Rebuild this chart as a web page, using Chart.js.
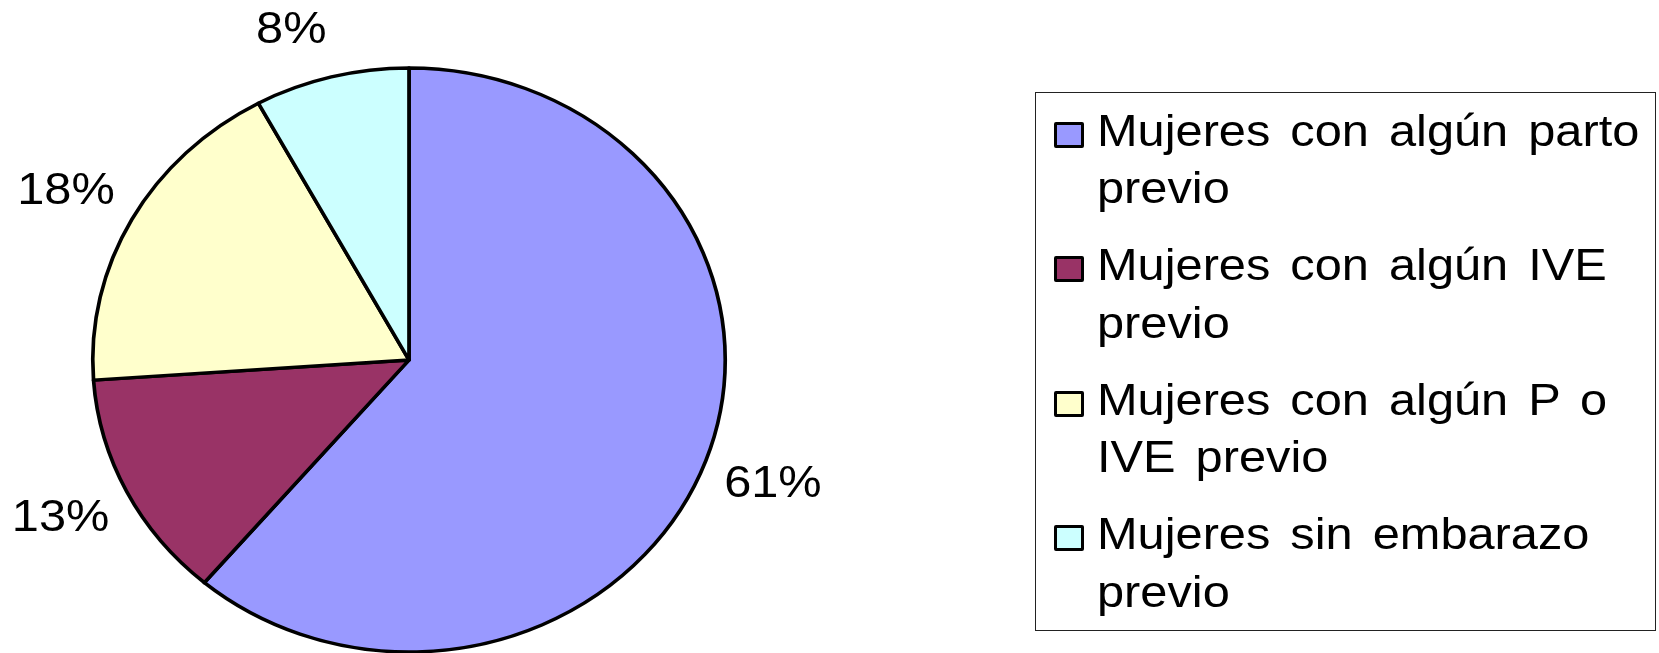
<!DOCTYPE html>
<html>
<head>
<meta charset="utf-8">
<script src="https://cdn.jsdelivr.net/npm/chart.js@4/dist/chart.umd.min.js"></script>
<style>
    html, body { margin: 0; padding: 0; background: #ffffff; }
    #wrap { position: absolute; left: 0; top: 0; width: 1659px; height: 653px; overflow: hidden; }
    #pieArea { position: absolute; left: 0; top: 0; width: 1659px; height: 653px; }
    #legendBox {
        position: absolute; left: 1035px; top: 92px; width: 621px; height: 539px;
        border: 1px solid #222; box-sizing: border-box;
    }
    .swatch {
        position: absolute; width: 30px; height: 26px; box-sizing: border-box;
        border: 3px solid #000; border-radius: 2px;
    }
    .legendText {
        position: absolute; width: 515px; color: #000;
        font-family: "Liberation Sans", Arial, sans-serif; font-size: 45px;
        line-height: 57.5px; word-spacing: 6px;
        transform: scaleX(1.083); transform-origin: 0 0;
    }
</style>
</head>
<body>
<div id="wrap">
    <div id="pieArea"><canvas id="pieChart"></canvas></div>
    <div id="legendBox"></div>
</div>
<script>
// data (share of women, %)
const categories = [
    'Mujeres con algún parto previo',
    'Mujeres con algún IVE previo',
    'Mujeres con algún P o IVE previo',
    'Mujeres sin embarazo previo'
];
const shares = [61.2, 12.7, 18.2, 7.9];
const sliceColors = ['#9999FF', '#993366', '#FFFFCC', '#CCFFFF'];

const STRETCH_X = 1.083; // the original picture is a bit wider than tall
const LABEL_FONT = '45px "Liberation Sans", Arial, sans-serif';

// pie is drawn as a circle and stretched sideways around its centre
const stretchPlugin = {
    id: 'stretchPie',
    beforeDatasetsDraw(chart) {
        const arc = chart.getDatasetMeta(0).data[0];
        const ctx = chart.ctx;
        ctx.save();
        ctx.translate(arc.x, arc.y);
        ctx.scale(STRETCH_X, 1);
        ctx.translate(-arc.x, -arc.y);
    },
    afterDatasetsDraw(chart) {
        const ctx = chart.ctx;
        const meta = chart.getDatasetMeta(0);
        const total = shares.reduce((a, b) => a + b, 0);
        ctx.font = LABEL_FONT;
        ctx.fillStyle = '#000';
        ctx.textAlign = 'center';
        ctx.textBaseline = 'middle';
        meta.data.forEach((arc, i) => {
            const mid = (arc.startAngle + arc.endAngle) / 2;
            const dx = Math.cos(mid), dy = Math.sin(mid);
            const txt = Math.round(shares[i] / total * 100) + '%';
            const w = ctx.measureText(txt).width;
            const ex = arc.x + dx * (arc.outerRadius + 18);
            const ey = arc.y + dy * (arc.outerRadius + 18);
            // labels near the top/bottom sit a bit further out
            const halfH = 18 * (1 + 0.7 * Math.pow(Math.abs(dy), 4));
            const x = ex + Math.sign(dx) * w / 2;
            const y = ey + Math.sign(dy) * halfH;
            ctx.fillText(txt, x, y);
        });
        ctx.restore();
    }
};

const ctx = document.getElementById('pieChart').getContext('2d');
const chart = new Chart(ctx, {
    type: 'pie',
    data: {
        labels: categories,
        datasets: [{
            data: shares,
            backgroundColor: sliceColors,
            borderColor: '#000000',
            borderWidth: 3.4,
            borderJoinStyle: 'round',
            radius: 292
        }]
    },
    options: {
        responsive: true,
        maintainAspectRatio: false,
        animation: false,
        layout: { padding: { left: 0, right: 841, top: 67, bottom: 0 } },
        plugins: {
            legend: { display: false },
            tooltip: { enabled: false }
        }
    },
    plugins: [stretchPlugin]
});

// legend built from the same arrays
const wrap = document.getElementById('wrap');
categories.forEach((name, i) => {
    const sw = document.createElement('div');
    sw.className = 'swatch';
    sw.style.left = '1054px';
    sw.style.top = (121.5 + i * 134.5) + 'px';
    sw.style.background = sliceColors[i];
    wrap.appendChild(sw);

    const tx = document.createElement('div');
    tx.className = 'legendText';
    tx.style.left = '1097px';
    tx.style.top = (101.9 + i * 134.5) + 'px';
    tx.textContent = name;
    wrap.appendChild(tx);
});
</script>
</body>
</html>
